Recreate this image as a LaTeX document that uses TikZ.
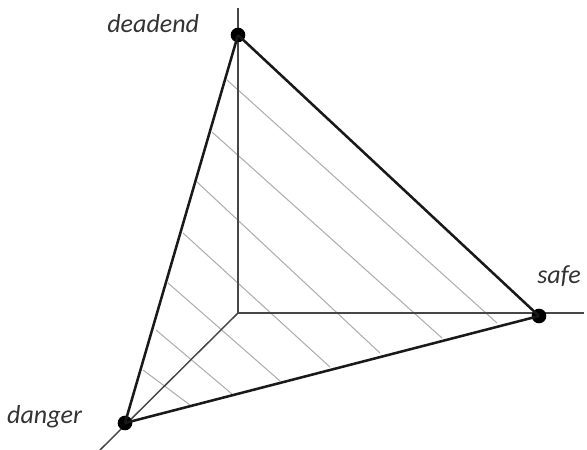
\documentclass[tikz,border=0pt]{standalone}
\usepackage{fontspec}
\setmainfont{Carlito}
\usepackage{xcolor}
\usepackage{tikz}
\usetikzlibrary{positioning,calc}
\definecolor{AxisGray}{RGB}{70,70,70}
\definecolor{HatchGray}{RGB}{175,175,175}

\begin{document}
\begin{tikzpicture}[x=0.75pt,y=-0.75pt,every node/.style={font=\itshape\fontsize{19.5}{22}\selectfont,text=black!80}]
\tikzset{corner/.style={circle,fill=black,inner sep=0pt,minimum size=11pt}}
\tikzset{axis/.style={draw=AxisGray,line width=1.1pt}}
\tikzset{edge/.style={draw=black!90,line width=1.9pt}}
\tikzset{hatch/.style={draw=HatchGray,line width=0.8pt}}
\useasboundingbox (0,0) rectangle (587,450);
\coordinate (origin) at (238,313);
\coordinate (top) at (238,8);
\coordinate (right) at (584,313);
\coordinate (low) at (100,450);
% hatching
\foreach \xa/\ya/\xb/\yb in {227/80/497/323,212/132/442/338,197/182/380/353,183/233/330/367,168/283/280/381,156/330/232/394,143/370/190/405}{
  \coordinate (ha) at (\xa,\ya);
  \coordinate (hb) at (\xb,\yb);
  \draw[hatch] (ha)--(hb);
}
\draw[axis] (top)--(origin);
\draw[axis] (origin)--(right);
\draw[axis] (origin)--(low);
\node[corner] (deadend) at (238,35) {};
\node[corner] (safe) at (539,316) {};
\node[corner] (danger) at (125,423) {};
\draw[edge] (deadend.center)--(safe.center);
\draw[edge] (safe.center)--(danger.center);
\draw[edge] (danger.center)--(deadend.center);
\node[left=20pt of deadend,yshift=8.5pt] (deadendlabel) {deadend};
\node[above=13pt of safe,xshift=15pt] (safelabel) {safe};
\node[left=23pt of danger,yshift=4.5pt] (dangerlabel) {danger};
\end{tikzpicture}
\end{document}
